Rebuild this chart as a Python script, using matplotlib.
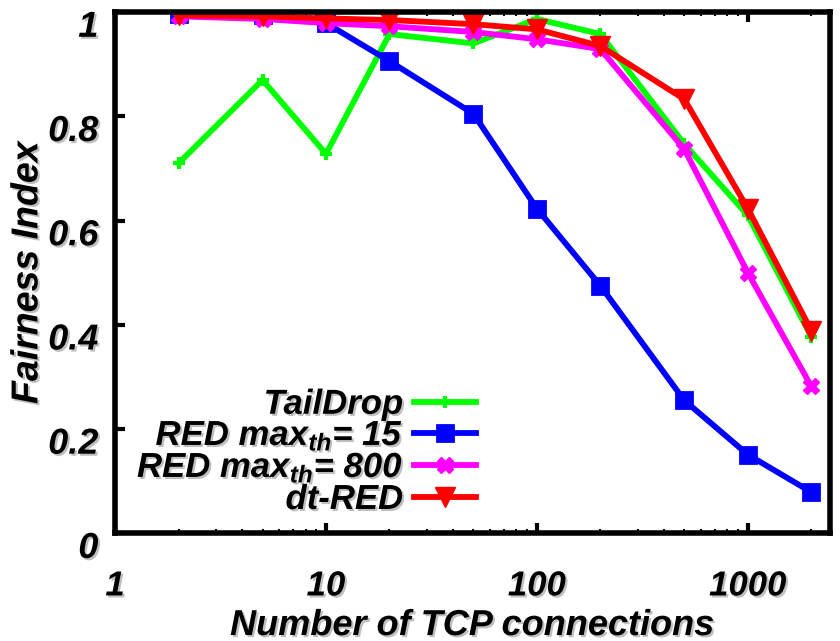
import matplotlib
matplotlib.use("Agg")
import matplotlib.pyplot as plt
import matplotlib.patheffects as pe
import matplotlib.transforms as mtransforms

# TCP connections vs fairness
connections = [2, 5, 10, 20, 50, 100, 200, 500, 1000, 2000]
taildrop = [0.71, 0.87, 0.728, 0.958, 0.94, 0.987, 0.958, 0.747, 0.61, 0.377]
red_15 = [0.996, 0.994, 0.979, 0.906, 0.805, 0.623, 0.475, 0.255, 0.151, 0.079]
red_800 = [0.992, 0.987, 0.979, 0.973, 0.962, 0.948, 0.929, 0.737, 0.50, 0.282]
dt_red = [0.994, 0.992, 0.988, 0.985, 0.977, 0.967, 0.935, 0.833, 0.623, 0.389]

labels = ["TailDrop", "RED max$_{th}$= 15", "RED max$_{th}$= 800", "dt-RED"]
xticks = [1, 10, 100, 1000]
yticks = [0, 0.2, 0.4, 0.6, 0.8, 1]
ytick_labels = ["0", "0.2", "0.4", "0.6", "0.8", "1"]

plt.rcParams["font.family"] = "Liberation Sans"
plt.rcParams["font.weight"] = "bold"
plt.rcParams["font.style"] = "italic"
plt.rcParams["axes.labelweight"] = "bold"
plt.rcParams["mathtext.fontset"] = "custom"
plt.rcParams["mathtext.it"] = "Liberation Sans:bold:italic"
plt.rcParams["mathtext.rm"] = "Liberation Sans:bold:italic"

shadow = [pe.withSimplePatchShadow(offset=(1.5, -1.5), shadow_rgbFace="gray", alpha=0.5)]

fig = plt.figure(figsize=(8.4, 6.41), dpi=100)
ax = fig.add_axes([0.137, 0.168, 0.851, 0.813])

lw = 4.2
ax.plot(connections, taildrop, color="#00ff00", lw=lw, marker="+", ms=9, mew=3, label=labels[0])
ax.plot(connections, red_15, color="#0000ff", lw=lw, marker="s", ms=12, mew=2, label=labels[1])
ax.plot(connections, red_800, color="#ff00ff", lw=lw, marker="X", ms=11, mew=1, label=labels[2])
ax.plot(connections, dt_red, color="#ff0000", lw=lw, marker="v", ms=14, mew=1, label=labels[3])

ax.set_xscale("log")
ax.set_xlim(1, 2450)
ax.set_ylim(0, 1)
ax.set_xticks(xticks)
ax.set_xticklabels([str(t) for t in xticks])
ax.set_yticks(yticks)
ax.set_yticklabels(ytick_labels)

for s in ax.spines.values():
    s.set_linewidth(4)
ax.tick_params(which="major", direction="in", length=7, width=3, labelsize=26,
               top=True, right=False)
ax.tick_params(axis="x", which="major", labelsize=25, pad=26)
ax.tick_params(axis="y", which="major", pad=12)
ax.tick_params(which="minor", direction="in", length=3, width=1.5, top=True)

down = mtransforms.ScaledTranslation(0, -8 / 72, fig.dpi_scale_trans)
for t in ax.get_yticklabels():
    t.set_transform(t.get_transform() + down)
for t in ax.get_xticklabels() + ax.get_yticklabels():
    t.set_path_effects(shadow)

ax.set_xlabel("Number of TCP connections", fontsize=26, path_effects=shadow, va="center")
ax.xaxis.set_label_coords(0.5, -0.177)
ax.set_ylabel("Fairness Index", fontsize=27, labelpad=2, path_effects=shadow)

leg = ax.legend(loc="lower right", bbox_to_anchor=(0.515, 0.02), frameon=False, fontsize=25,
                markerfirst=False, handlelength=1.8, labelspacing=-0.05, handletextpad=0.3,
                borderaxespad=0.0, borderpad=0.2)
for t in leg.get_texts():
    t.set_ha("right")
    t.set_path_effects(shadow)
leg._legend_box.align = "right"

fig.savefig("out.png")
